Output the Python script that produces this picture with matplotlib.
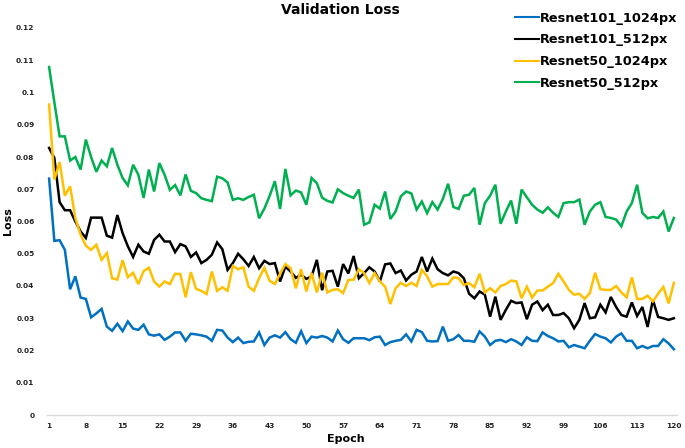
import matplotlib
matplotlib.use("Agg")
import matplotlib.pyplot as plt
import numpy as np

epochs = list(range(1, 121))

resnet101_1024 = [
    0.0733, 0.0540, 0.0542, 0.0512, 0.0390, 0.0430, 0.0364, 0.0360, 0.0303, 0.0315,
    0.0329, 0.0274, 0.0261, 0.0283, 0.0260, 0.0290, 0.0268, 0.0264, 0.0280, 0.0250,
    0.0246, 0.0250, 0.0233, 0.0243, 0.0256, 0.0256, 0.0230, 0.0252, 0.0250, 0.0247,
    0.0243, 0.0230, 0.0264, 0.0262, 0.0240, 0.0226, 0.0240, 0.0223, 0.0227, 0.0228,
    0.0256, 0.0217, 0.0240, 0.0247, 0.0240, 0.0257, 0.0235, 0.0224, 0.0260, 0.0223,
    0.0243, 0.0240, 0.0245, 0.0240, 0.0228, 0.0262, 0.0235, 0.0224, 0.0238, 0.0238,
    0.0238, 0.0232, 0.0241, 0.0243, 0.0217, 0.0226, 0.0230, 0.0233, 0.0250, 0.0228,
    0.0264, 0.0257, 0.0230, 0.0228, 0.0229, 0.0274, 0.0230, 0.0235, 0.0248, 0.0230,
    0.0230, 0.0227, 0.0259, 0.0243, 0.0217, 0.0230, 0.0233, 0.0226, 0.0235, 0.0228,
    0.0217, 0.0241, 0.0230, 0.0229, 0.0256, 0.0245, 0.0238, 0.0228, 0.0230, 0.0210,
    0.0217, 0.0212, 0.0207, 0.0230, 0.0251, 0.0243, 0.0238, 0.0225, 0.0243, 0.0253,
    0.0230, 0.0230, 0.0207, 0.0214, 0.0207, 0.0214, 0.0214, 0.0235, 0.0222, 0.0204,
]

resnet101_512 = [
    0.0828, 0.0797, 0.0660, 0.0635, 0.0635, 0.0600, 0.0569, 0.0549, 0.0612, 0.0612,
    0.0612, 0.0556, 0.0550, 0.0620, 0.0564, 0.0523, 0.0490, 0.0528, 0.0507, 0.0500,
    0.0543, 0.0559, 0.0538, 0.0538, 0.0505, 0.0530, 0.0523, 0.0490, 0.0504, 0.0471,
    0.0481, 0.0497, 0.0535, 0.0514, 0.0450, 0.0471, 0.0500, 0.0483, 0.0462, 0.0490,
    0.0455, 0.0478, 0.0468, 0.0471, 0.0414, 0.0460, 0.0445, 0.0425, 0.0435, 0.0422,
    0.0430, 0.0481, 0.0387, 0.0445, 0.0447, 0.0398, 0.0468, 0.0439, 0.0493, 0.0424,
    0.0440, 0.0458, 0.0445, 0.0414, 0.0467, 0.0470, 0.0440, 0.0448, 0.0417, 0.0435,
    0.0445, 0.0490, 0.0445, 0.0485, 0.0452, 0.0440, 0.0433, 0.0445, 0.0440, 0.0424,
    0.0376, 0.0362, 0.0383, 0.0373, 0.0305, 0.0367, 0.0295, 0.0326, 0.0354, 0.0347,
    0.0349, 0.0297, 0.0342, 0.0352, 0.0325, 0.0342, 0.0310, 0.0310, 0.0316, 0.0300,
    0.0269, 0.0295, 0.0347, 0.0300, 0.0303, 0.0342, 0.0318, 0.0366, 0.0335, 0.0310,
    0.0305, 0.0349, 0.0307, 0.0335, 0.0273, 0.0357, 0.0304, 0.0300, 0.0295, 0.0300,
]

resnet50_1024 = [
    0.0963, 0.0730, 0.0784, 0.0680, 0.0709, 0.0610, 0.0559, 0.0525, 0.0512, 0.0528,
    0.0481, 0.0502, 0.0424, 0.0420, 0.0480, 0.0427, 0.0441, 0.0406, 0.0446, 0.0457,
    0.0414, 0.0398, 0.0414, 0.0406, 0.0438, 0.0437, 0.0365, 0.0443, 0.0391, 0.0385,
    0.0375, 0.0445, 0.0385, 0.0396, 0.0385, 0.0462, 0.0452, 0.0458, 0.0398, 0.0385,
    0.0424, 0.0457, 0.0416, 0.0406, 0.0438, 0.0468, 0.0455, 0.0393, 0.0452, 0.0383,
    0.0440, 0.0380, 0.0441, 0.0380, 0.0388, 0.0390, 0.0378, 0.0419, 0.0419, 0.0452,
    0.0440, 0.0409, 0.0440, 0.0414, 0.0398, 0.0344, 0.0393, 0.0410, 0.0400, 0.0410,
    0.0400, 0.0450, 0.0430, 0.0398, 0.0406, 0.0406, 0.0406, 0.0427, 0.0424, 0.0403,
    0.0409, 0.0396, 0.0438, 0.0380, 0.0393, 0.0380, 0.0400, 0.0406, 0.0417, 0.0414,
    0.0362, 0.0398, 0.0364, 0.0386, 0.0386, 0.0398, 0.0409, 0.0438, 0.0414, 0.0388,
    0.0373, 0.0376, 0.0360, 0.0378, 0.0441, 0.0390, 0.0388, 0.0388, 0.0400, 0.0380,
    0.0365, 0.0427, 0.0360, 0.0360, 0.0370, 0.0352, 0.0376, 0.0397, 0.0346, 0.0410,
]

resnet50_512 = [
    0.1079, 0.0970, 0.0864, 0.0864, 0.0789, 0.0800, 0.0761, 0.0854, 0.0800, 0.0754,
    0.0789, 0.0771, 0.0828, 0.0776, 0.0735, 0.0712, 0.0776, 0.0745, 0.0673, 0.0761,
    0.0693, 0.0781, 0.0745, 0.0698, 0.0713, 0.0681, 0.0746, 0.0695, 0.0688, 0.0672,
    0.0667, 0.0663, 0.0739, 0.0734, 0.0721, 0.0667, 0.0672, 0.0667, 0.0676, 0.0683,
    0.0610, 0.0640, 0.0679, 0.0725, 0.0639, 0.0763, 0.0681, 0.0696, 0.0690, 0.0652,
    0.0735, 0.0719, 0.0674, 0.0664, 0.0659, 0.0700, 0.0688, 0.0680, 0.0673, 0.0699,
    0.0590, 0.0597, 0.0652, 0.0640, 0.0693, 0.0608, 0.0631, 0.0678, 0.0693, 0.0687,
    0.0637, 0.0662, 0.0626, 0.0660, 0.0637, 0.0670, 0.0717, 0.0645, 0.0639, 0.0680,
    0.0683, 0.0704, 0.0590, 0.0657, 0.0680, 0.0714, 0.0593, 0.0631, 0.0665, 0.0593,
    0.0699, 0.0675, 0.0652, 0.0637, 0.0627, 0.0644, 0.0627, 0.0614, 0.0657, 0.0660,
    0.0660, 0.0668, 0.0590, 0.0631, 0.0652, 0.0660, 0.0614, 0.0611, 0.0606, 0.0585,
    0.0631, 0.0657, 0.0714, 0.0627, 0.0610, 0.0614, 0.0611, 0.0631, 0.0569, 0.0611,
]

series_names = ["Resnet101_1024px", "Resnet101_512px", "Resnet50_1024px", "Resnet50_512px"]
series_colors = ["#0070C0", "#000000", "#FFC000", "#00B050"]
x_ticks = list(range(1, 121, 7))
y_ticks = [0, 0.01, 0.02, 0.03, 0.04, 0.05, 0.06, 0.07, 0.08, 0.09, 0.1, 0.11, 0.12]
y_tick_labels = ["0", "0.01", "0.02", "0.03", "0.04", "0.05", "0.06", "0.07", "0.08",
                 "0.09", "0.1", "0.11", "0.12"]

plt.rcParams['font.family'] = ['DejaVu Sans']

fig = plt.figure(figsize=(6.85, 4.48), dpi=100)
ax = fig.add_axes([47 / 685, 33 / 448, (677 - 47) / 685, (415 - 28) / 448])

for vals, name, col in zip([resnet101_1024, resnet101_512, resnet50_1024, resnet50_512],
                           series_names, series_colors):
    ax.plot(epochs, vals, color=col, lw=1.8, label=name, solid_joinstyle='miter')

ax.set_xlim(0.6, 120.6)
ax.set_ylim(0, 0.12)
ax.set_xticks(x_ticks)
ax.set_xticklabels([str(t) for t in x_ticks])
ax.set_yticks(y_ticks)
ax.set_yticklabels(y_tick_labels)
ax.tick_params(axis='both', length=0, labelsize=5.3, colors='#222222')
for lab in ax.get_xticklabels() + ax.get_yticklabels():
    lab.set_fontweight('bold')
ax.tick_params(axis='x', pad=6)
ax.tick_params(axis='y', pad=9)

for s in ['top', 'right', 'left']:
    ax.spines[s].set_visible(False)
ax.spines['bottom'].set_color('#d9d9d9')
ax.spines['bottom'].set_linewidth(1.0)

ax.set_xlabel("Epoch", fontsize=8, fontweight='bold', va='center')
ax.xaxis.set_label_coords(0.475, -0.062)
ax.set_ylabel("Loss", fontsize=8, fontweight='bold', va='center')
ax.yaxis.set_label_coords(-0.062, 0.5)
fig.text(0.497, 0.977, "Validation Loss", ha='center', va='center',
         fontsize=10, fontweight='bold')

leg = fig.legend(loc='upper right', bbox_to_anchor=(1.006, 1.0), frameon=False,
                 prop={'weight': 'bold', 'size': 9.3}, handlelength=1.9,
                 handletextpad=0.05, labelspacing=0.68)
for h in leg.get_lines():
    h.set_linewidth(1.5)

fig.savefig("out.png", dpi=100)
